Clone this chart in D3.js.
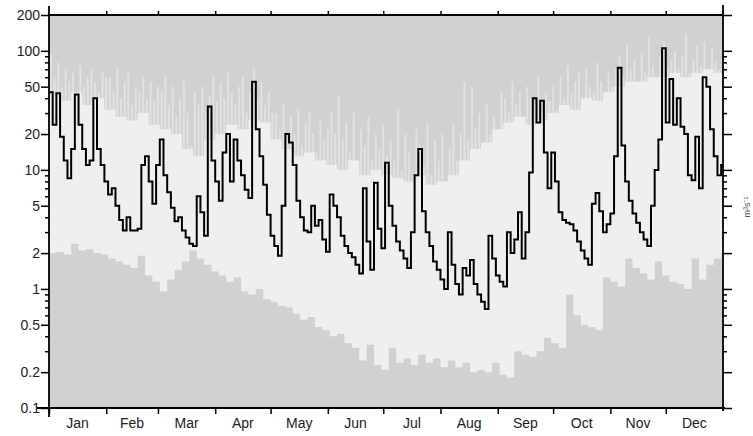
<!DOCTYPE html>
<html>
<head>
<meta charset="utf-8">
<title>Daily flow</title>
<style type="text/css">
body { margin: 0; background: #fff; }
text { font-family: 'Liberation Sans', Arial, sans-serif; }
</style>
</head>
<body>
<svg id="chart" width="753" height="436"></svg>
<script src="https://d3js.org/d3.v7.min.js"></script>
<script type="text/javascript">

// month names and first day of each month (day of year), last entry = year end
const months = ["Jan", "Feb", "Mar", "Apr", "May", "Jun", "Jul", "Aug", "Sep", "Oct", "Nov", "Dec"];
const monthStart = [0, 31, 59, 90, 120, 151, 181, 212, 243, 273, 304, 334, 365];
const yTicks = [0.1, 0.2, 0.5, 1, 2, 5, 10, 20, 50, 100, 200];

// flow of the year, one value every 2 days
const flow = [
  45, 24, 44, 19, 12, 8.5, 15, 43, 24, 15, 11, 12, 40, 15, 11, 8,
  6.2, 7, 5, 3.8, 3.1, 4, 3.1, 3.1, 3.2, 11, 13, 8, 5.2, 11,
  18, 9, 6.5, 4.8, 3.7, 4, 3.1, 2.7, 2.4, 2.3, 6, 4.4, 2.8, 34, 12, 8,
  5.5, 14, 20, 8, 18, 12, 9, 6.8, 5.8, 55, 22, 13, 7.5, 4.2, 2.8,
  2.3, 1.9, 5, 20, 17, 11, 5.5, 4, 3.1, 3, 5, 3.4, 3.8, 2.6, 2.05, 6.2,
  5, 4, 2.8, 2.3, 2, 1.85, 1.6, 1.35, 7, 2.5, 1.45, 7.8, 3.2, 2.2, 11.5,
  5, 3.4, 2.5, 2.1, 1.8, 1.5, 3, 9, 15, 4.5, 3, 2.3, 1.7, 1.45, 1.2, 1.0,
  3, 1.6, 1.1, 0.9, 1.5, 1.3, 1.75, 1.1, 0.9, 0.78, 0.68, 2.8, 1.8, 1.3, 1.15,
  1.05, 3, 2, 2.6, 4.4, 1.8, 3, 9.5, 40, 25, 38, 14, 7, 14, 8,
  4.4, 3.8, 3.6, 3.5, 3.1, 2.5, 2.1, 1.8, 1.6, 5.2, 6.4, 4.5, 3, 3.5, 4.3, 13,
  72, 16, 8, 5.5, 4.3, 3.6, 3, 2.6, 2.3, 5, 10, 18, 105, 25, 58,
  24, 40, 23, 20, 9, 8.2, 19, 7, 60, 50, 22, 13, 9, 11
];

// highest recorded flow, one value every 2 days
const peak = [
  95, 60, 80, 50, 70, 55, 65, 45, 75, 50, 60, 70, 55, 45, 65, 60,
  60, 45, 70, 40, 55, 65, 35, 50, 45, 60, 40, 55, 38, 50,
  45, 60, 35, 50, 28, 40, 55, 30, 16, 45, 35, 50, 30, 42, 60, 38,
  55, 40, 65, 45, 35, 50, 60, 30, 45, 70, 40, 55, 35, 45, 30,
  30, 22, 35, 18, 28, 20, 32, 16, 25, 30, 20, 14, 26, 18, 22, 30,
  20, 42, 18, 25, 14, 30, 12, 22, 16, 28, 12, 20, 15, 24, 13,
  18, 12, 32, 10, 20, 14, 9, 22, 16, 11, 25, 9, 18, 12, 20, 8,
  15, 25, 12, 20, 55, 18, 50, 22, 30, 16, 35, 20, 28, 18, 45,
  40, 30, 55, 35, 45, 28, 50, 40, 35, 60, 30, 45, 38, 50, 32,
  60, 40, 75, 45, 55, 65, 38, 70, 50, 45, 80, 55, 42, 65, 50, 70,
  90, 60, 110, 70, 85, 55, 95, 65, 130, 75, 60, 90, 120, 70, 85,
  100, 70, 90, 140, 65, 85, 110, 75, 120, 60, 105, 80, 70, 90
];

// usual high flow, one value every 6 days
const high = [
  42, 38, 45, 35, 40,
  32, 28, 26, 30, 24,
  22, 20, 15, 13, 18,
  20, 24, 22, 26, 25,
  18, 15, 13, 14, 12,
  11, 10, 12, 9, 10,
  9, 8.5, 8, 9, 7.5,
  8, 9, 12, 15, 17,
  22, 25, 28, 24, 26,
  30, 35, 32, 40, 38,
  45, 50, 55, 55, 60,
  60, 65, 60, 65, 70, 65
];

// lowest recorded flow, one value every 4 days
const low = [
  2.0, 2.05, 1.95, 2.4, 2.1, 2.15, 2.0, 1.95, 1.8, 1.7, 1.6, 1.5, 1.9, 1.3, 1.15, 0.95,
  1.2, 1.45, 1.7, 2.1, 1.8, 1.6, 1.4, 1.3, 1.15, 1.25, 0.95, 0.9, 1.0, 0.82, 0.78,
  0.72, 0.7, 0.62, 0.55, 0.58, 0.48, 0.45, 0.4, 0.42, 0.35, 0.32, 0.25, 0.34, 0.23, 0.21,
  0.32, 0.24, 0.26, 0.23, 0.28, 0.24, 0.26, 0.22, 0.25, 0.22, 0.24, 0.2, 0.21, 0.2, 0.24,
  0.19, 0.18, 0.3, 0.28, 0.27, 0.3, 0.39, 0.35, 0.32, 0.9, 0.6, 0.5, 0.48, 0.45, 1.25,
  1.15, 1.05, 1.8, 1.5, 1.35, 1.2, 1.7, 1.3, 1.15, 1.1, 1.0, 1.8, 1.2, 1.6, 1.8, 2.0
];

const svg = d3.select("#chart");

const x = d3.scaleLinear().domain([0, 365]).range([49, 723]);
const y = d3.scaleLog().domain([0.1, 200]).range([408, 15]);

// values every n days -> [day, value], with a closing point at year end
function steps(values, n) {
  const pts = values.map((v, i) => [i * n, v]);
  pts.push([365, values[values.length - 1]]);
  return pts;
}

svg.append("clipPath").attr("id", "plot")
  .append("rect")
    .attr("x", x(0)).attr("y", y(200))
    .attr("width", x(365) - x(0)).attr("height", y(0.1) - y(200));

const plot = svg.append("g").attr("clip-path", "url(#plot)");

plot.append("rect")
    .attr("x", x(0)).attr("y", y(200))
    .attr("width", x(365) - x(0)).attr("height", y(0.1) - y(200))
    .attr("fill", "#d1d1d1");

// peak flows as thin light streaks
plot.selectAll(".peak")
    .data(peak)
  .enter().append("line")
    .attr("x1", (d, i) => x(i * 2 + 1))
    .attr("x2", (d, i) => x(i * 2 + 1))
    .attr("y1", d => y(d))
    .attr("y2", y(1))
    .attr("stroke", "#e1e1e1")
    .attr("stroke-width", 2);

const area = d3.area()
    .x(d => x(d[0]))
    .y0(y(0.1))
    .y1(d => y(d[1]))
    .curve(d3.curveStepAfter);

plot.append("path").datum(steps(high, 6)).attr("d", area).attr("fill", "#efefef");
plot.append("path").datum(steps(low, 4)).attr("d", area).attr("fill", "#d1d1d1");

const line = d3.line()
    .x(d => x(d[0]))
    .y(d => y(d[1]))
    .curve(d3.curveStepAfter);

plot.append("path").datum(steps(flow, 2))
    .attr("d", line)
    .attr("fill", "none")
    .attr("stroke", "#000")
    .attr("stroke-width", 2);

// AXES
// ========================
const minor = y.ticks().filter(d => !yTicks.some(t => Math.abs(t - d) < 1e-9));
const fmt = d => String(d);

function styleAxis(g) {
  g.select(".domain").remove();
  g.selectAll("line").attr("stroke", "#000").attr("stroke-width", 1.5);
  g.selectAll("text").attr("font-size", 14).attr("fill", "#222")
    .attr("font-family", "'Liberation Sans', Arial, sans-serif");
}

svg.append("g").attr("transform", "translate(" + x(0) + ",0)")
    .call(d3.axisLeft(y).tickValues(yTicks).tickFormat(fmt).tickSize(8).tickPadding(1))
    .call(styleAxis);
svg.append("g").attr("transform", "translate(" + x(0) + ",0)")
    .call(d3.axisLeft(y).tickValues(minor).tickFormat("").tickSize(4))
    .call(styleAxis);
svg.append("g").attr("transform", "translate(" + x(365) + ",0)")
    .call(d3.axisRight(y).tickValues(yTicks).tickFormat("").tickSize(9))
    .call(styleAxis);
svg.append("g").attr("transform", "translate(" + x(365) + ",0)")
    .call(d3.axisRight(y).tickValues(minor).tickFormat("").tickSize(4))
    .call(styleAxis);

svg.append("g").attr("transform", "translate(0," + y(200) + ")")
    .call(d3.axisTop(x).tickValues(monthStart.slice(1, -1)).tickFormat("").tickSize(4))
    .call(styleAxis);
svg.append("g").attr("transform", "translate(0," + y(0.1) + ")")
    .call(d3.axisBottom(x).tickValues(monthStart.slice(0, -1)).tickFormat("").tickSize(6))
    .call(styleAxis);

// frame lines, running a little past the corners
const frame = [
  [x(0), y(200) - 9, x(0), y(0.1) + 9],
  [x(365), y(200) - 10, x(365), y(0.1) + 3],
  [x(0), y(200), x(365), y(200)],
  [x(0) - 12, y(0.1), x(365) + 2, y(0.1)]
];
svg.selectAll(".frame").data(frame).enter().append("line")
    .attr("x1", d => d[0]).attr("y1", d => d[1])
    .attr("x2", d => d[2]).attr("y2", d => d[3])
    .attr("stroke", "#000").attr("stroke-width", 1.8);

svg.selectAll(".month").data(months).enter().append("text")
    .attr("x", (d, i) => x((monthStart[i] + monthStart[i + 1]) / 2))
    .attr("y", 428)
    .attr("text-anchor", "middle")
    .attr("font-size", 14)
    .attr("fill", "#222")
    .text(d => d);

svg.append("text")
    .attr("transform", "translate(750,207) rotate(-90)")
    .attr("text-anchor", "middle")
    .attr("font-size", 9)
    .attr("fill", "#555")
    .text("m³s⁻¹");

</script>
</body>
</html>
